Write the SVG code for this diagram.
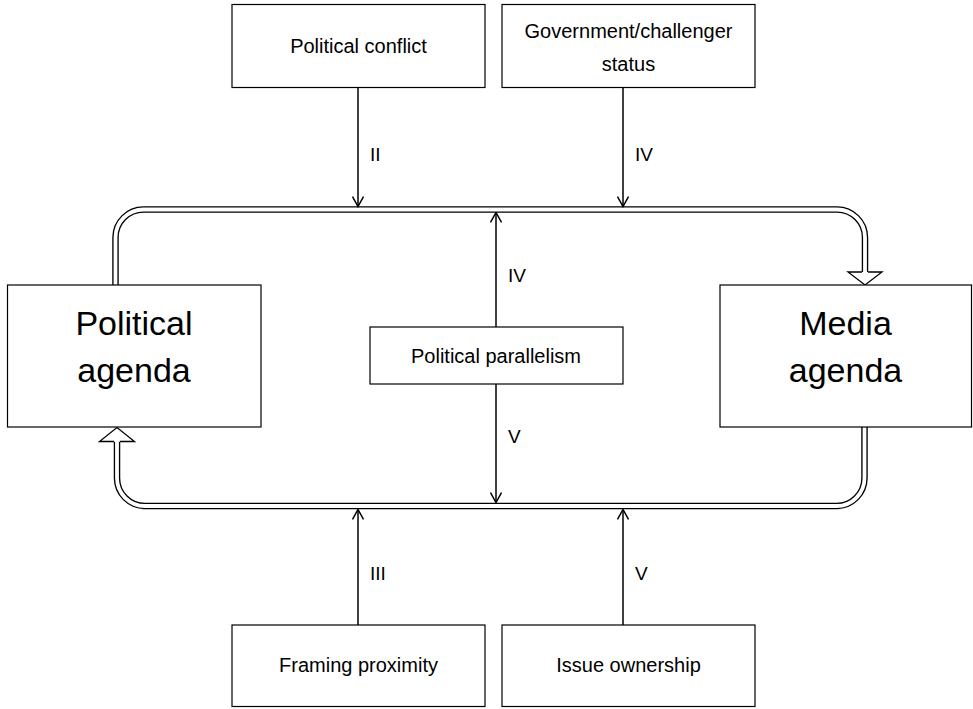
<svg xmlns="http://www.w3.org/2000/svg" width="973" height="709" viewBox="0 0 973 709">
<style>
.box{fill:#fff;stroke:#000;stroke-width:1.2}
.t{font-family:"Liberation Sans",Arial,sans-serif;font-size:20px;fill:#000;text-anchor:middle}
.big{font-family:"Liberation Sans",Arial,sans-serif;font-size:34px;fill:#000;text-anchor:middle}
.lab{font-family:"Liberation Sans",Arial,sans-serif;font-size:19px;fill:#000}
.ln{fill:none;stroke:#000;stroke-width:1.5}
.dblo{fill:none;stroke:#000;stroke-width:6.5}
.dbli{fill:none;stroke:#fff;stroke-width:3.8}
.head{fill:#fff;stroke:#000;stroke-width:1.3;stroke-linejoin:miter}
</style>
<defs>
<marker id="v" viewBox="0 0 12 12" refX="11" refY="6" markerWidth="12" markerHeight="12" markerUnits="userSpaceOnUse" orient="auto">
<path d="M1,0.5 L11,6 L1,11.5" fill="none" stroke="#000" stroke-width="1.5"/>
</marker>
</defs>
<g id="connectors">
<path class="dblo" d="M115.5,285 V237.5 A28,28 0 0 1 143.5,209.5 H837 A28,28 0 0 1 865,237.5 V272"/>
<path class="dbli" d="M115.5,286 V237.5 A28,28 0 0 1 143.5,209.5 H837 A28,28 0 0 1 865,237.5 V273"/>
<path class="head" d="M862,272 H848 L865,285 L882,272 H868"/>
<path class="dblo" d="M864.5,427 V478 A28,28 0 0 1 836.5,506 H145 A28,28 0 0 1 117,478 V441.5"/>
<path class="dbli" d="M864.5,426 V478 A28,28 0 0 1 836.5,506 H145 A28,28 0 0 1 117,478 V440.5"/>
<path class="head" d="M120,441.5 H134.5 L117,427.5 L99.5,441.5 H114"/>
<line class="ln" x1="358" y1="87.5" x2="358" y2="206.5" marker-end="url(#v)"/>
<line class="ln" x1="623" y1="87.5" x2="623" y2="206.5" marker-end="url(#v)"/>
<line class="ln" x1="496" y1="327" x2="496" y2="212.5" marker-end="url(#v)"/>
<line class="ln" x1="496" y1="384" x2="496" y2="502.5" marker-end="url(#v)"/>
<line class="ln" x1="358" y1="625" x2="358" y2="509.5" marker-end="url(#v)"/>
<line class="ln" x1="623" y1="625" x2="623" y2="509.5" marker-end="url(#v)"/>
<text class="lab" x="370" y="161">II</text>
<text class="lab" x="635" y="161">IV</text>
<text class="lab" x="508" y="282">IV</text>
<text class="lab" x="508" y="443">V</text>
<text class="lab" x="370" y="580">III</text>
<text class="lab" x="635" y="580">V</text>
</g>
<g id="political-conflict">
<rect class="box" x="232" y="4.5" width="253" height="83"/>
<text class="t" x="358.5" y="53">Political conflict</text>
</g>
<g id="government-challenger">
<rect class="box" x="502" y="4.5" width="253" height="83"/>
<text class="t" x="628.5" y="38">Government/challenger</text>
<text class="t" x="628.5" y="71">status</text>
</g>
<g id="political-agenda">
<rect class="box" x="7.5" y="285" width="253.5" height="142"/>
<text class="big" x="134" y="335">Political</text>
<text class="big" x="134" y="382">agenda</text>
</g>
<g id="media-agenda">
<rect class="box" x="720" y="285" width="251.5" height="142"/>
<text class="big" x="845.5" y="335">Media</text>
<text class="big" x="845.5" y="382">agenda</text>
</g>
<g id="political-parallelism">
<rect class="box" x="370" y="327" width="253" height="57"/>
<text class="t" x="496" y="363">Political parallelism</text>
</g>
<g id="framing-proximity">
<rect class="box" x="232" y="625" width="253" height="81.5"/>
<text class="t" x="358.5" y="672">Framing proximity</text>
</g>
<g id="issue-ownership">
<rect class="box" x="502" y="625" width="253" height="81.5"/>
<text class="t" x="628.5" y="672">Issue ownership</text>
</g>
</svg>
